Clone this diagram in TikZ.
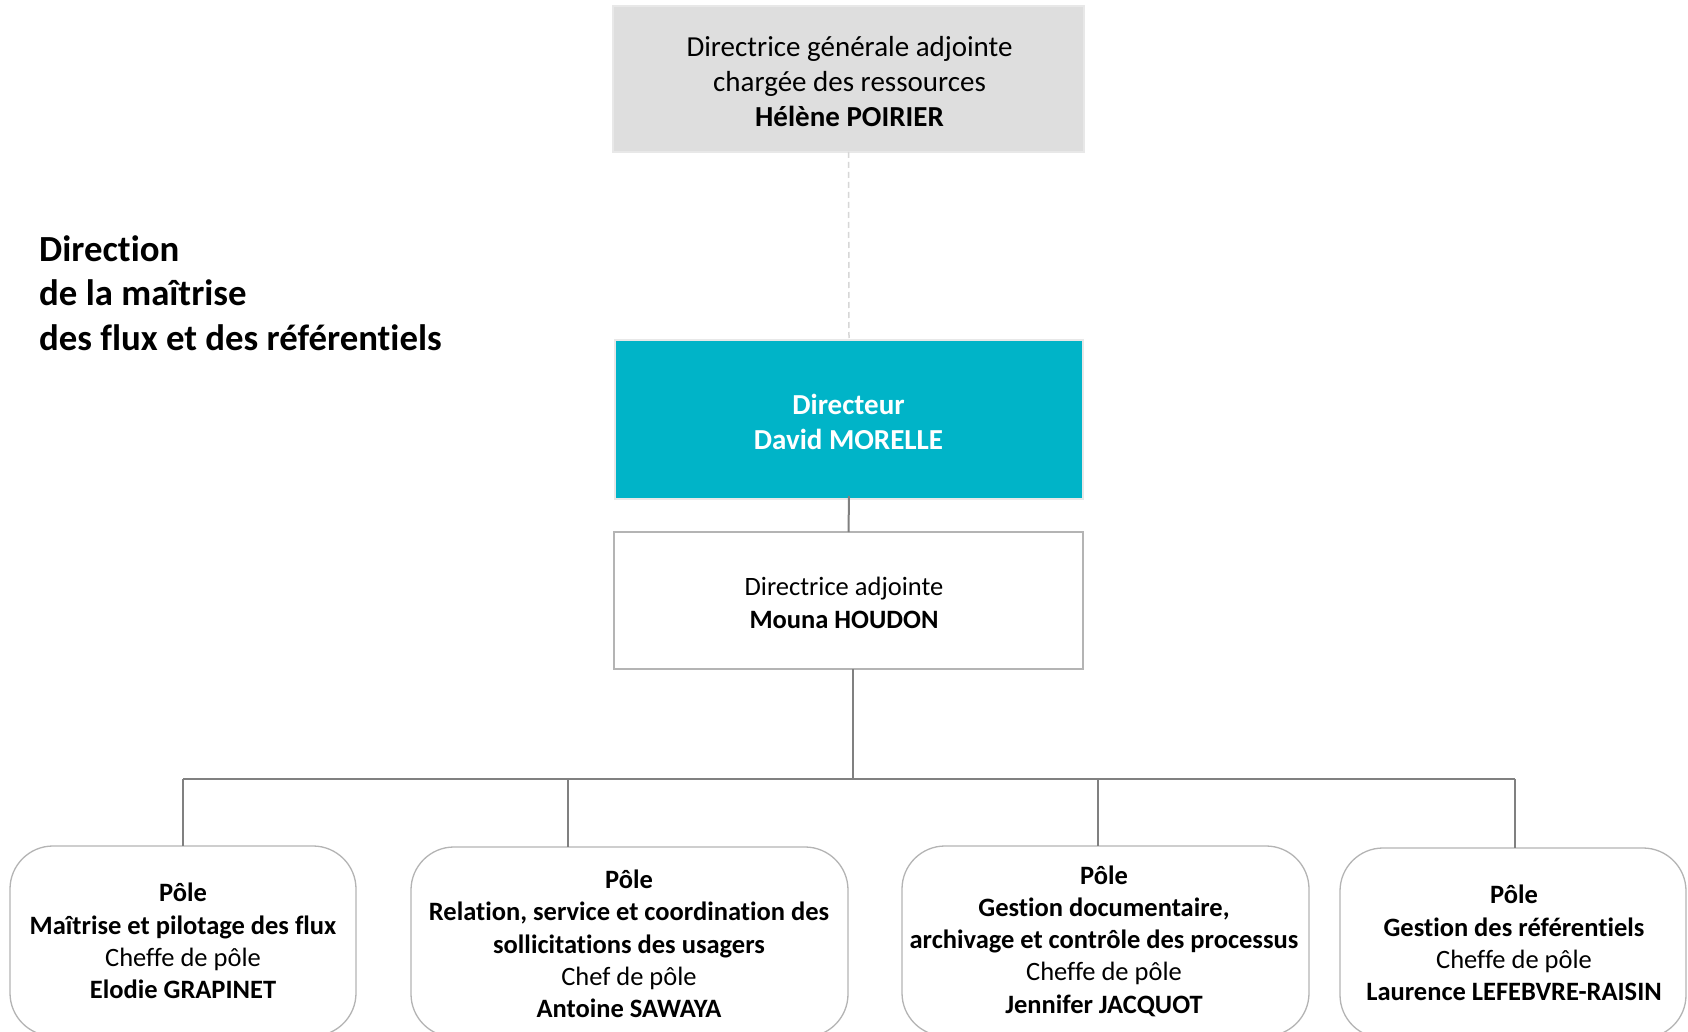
\documentclass[tikz,border=0pt]{standalone}
\usepackage{fontspec}
\setmainfont{Carlito}[Ligatures=NoCommon]
\definecolor{dgafill}{RGB}{222,222,222}
\definecolor{dgaline}{RGB}{232,232,232}
\definecolor{tealbox}{RGB}{0,180,200}
\definecolor{boxline}{RGB}{180,180,180}
\definecolor{conn}{RGB}{128,128,128}
\definecolor{dashc}{RGB}{215,215,215}
\tikzset{
  dgabox/.style={rectangle, fill=dgafill, draw=dgaline, line width=1.5pt, minimum width=471pt, minimum height=146pt, inner sep=0pt, outer sep=0pt},
  dirbox/.style={rectangle, fill=tealbox, draw=dgaline, line width=1.5pt, minimum width=468pt, minimum height=159pt, inner sep=0pt, outer sep=0pt},
  dabox/.style={rectangle, fill=white, draw=boxline, line width=1.3pt, minimum width=469pt, minimum height=137pt, inner sep=0pt, outer sep=0pt},
  polebox/.style={rectangle, rounded corners=43pt, fill=white, draw=boxline, line width=1.3pt, minimum height=190pt, inner sep=0pt, outer sep=0pt},
  dgatext/.style={inner sep=0pt, align=center, font={\fontsize{29}{35}\selectfont}},
  dirtext/.style={inner sep=0pt, align=center, text=white, font={\fontsize{29}{35.5}\selectfont\bfseries}},
  datext/.style={inner sep=0pt, align=center, font={\fontsize{26.5}{32.3}\selectfont}},
  poletext/.style={inner sep=0pt, align=center, font={\fontsize{26.5}{32.3}\selectfont}},
  conline/.style={draw=conn, line width=2pt},
  dashline/.style={draw=dashc, line width=1.5pt, dash pattern=on 6pt off 4pt},
  titletext/.style={anchor=west, align=left, inner sep=0pt, font={\fontsize{36.8}{44.7}\selectfont\bfseries}}
}
\begin{document}
\begin{tikzpicture}[x=1pt,y=-1pt]
\useasboundingbox (0,0) rectangle (1688,1032);
\fill[white] (0,0) rectangle (1688,1032);

\node[titletext] (title) at (39,293) {Direction\\de la maîtrise\\des flux et des référentiels};

\node[dgabox] (dga) at (848.5,79) {};
\node[dgatext] (dgat) at (849.5,82) {Directrice générale adjointe\\chargée des ressources\\\textbf{Hélène POIRIER}};
\node[dirbox] (dir) at (849,419.5) {};
\node[dirtext] (dirt) at (848.5,422) {Directeur\\David MORELLE};
\node[dabox] (da) at (848.5,600.5) {};
\node[datext] (dat) at (844,603) {Directrice adjointe\\\textbf{Mouna HOUDON}};

\node[polebox, minimum width=346pt] (p1) at (183,941) {};
\node[poletext] (p1t) at (183,941) {\textbf{Pôle}\\\textbf{Maîtrise et pilotage des flux}\\Cheffe de pôle\\\textbf{Elodie GRAPINET}};
\node[polebox, minimum width=437pt] (p2) at (629.5,942) {};
\node[poletext] (p2t) at (629,944) {\textbf{Pôle}\\\textbf{Relation, service et coordination des}\\\textbf{sollicitations des usagers}\\Chef de pôle\\\textbf{Antoine SAWAYA}};
\node[polebox, minimum width=407pt] (p3) at (1105.5,941) {};
\node[poletext] (p3t) at (1104,941) {\textbf{Pôle}\\\textbf{Gestion documentaire,}\\\textbf{archivage et contrôle des processus}\\Cheffe de pôle\\\textbf{Jennifer JACQUOT}};
\node[polebox, minimum width=346pt] (p4) at (1513,943) {};
\node[poletext] (p4t) at (1514,943) {\textbf{Pôle}\\\textbf{Gestion des référentiels}\\Cheffe de pôle\\\textbf{Laurence LEFEBVRE-RAISIN}};

\coordinate (bus) at (853,779);
\coordinate (b1) at (183,779);
\coordinate (b2) at (568,779);
\coordinate (b3) at (1098,779);
\coordinate (b4) at (1515,779);

\draw[dashline] (dga.south) -- (dir.north);
\draw[conline] ([yshift=3pt]dir.south) -- (da.north);
\draw[conline] (da.south -| bus) -- (bus);
\draw[conline] (b1) -- (b4);
\draw[conline] (b1) -- (p1.north -| b1);
\draw[conline] (b2) -- (p2.north -| b2);
\draw[conline] (b3) -- (p3.north -| b3);
\draw[conline] (b4) -- (p4.north -| b4);
\end{tikzpicture}
\end{document}
